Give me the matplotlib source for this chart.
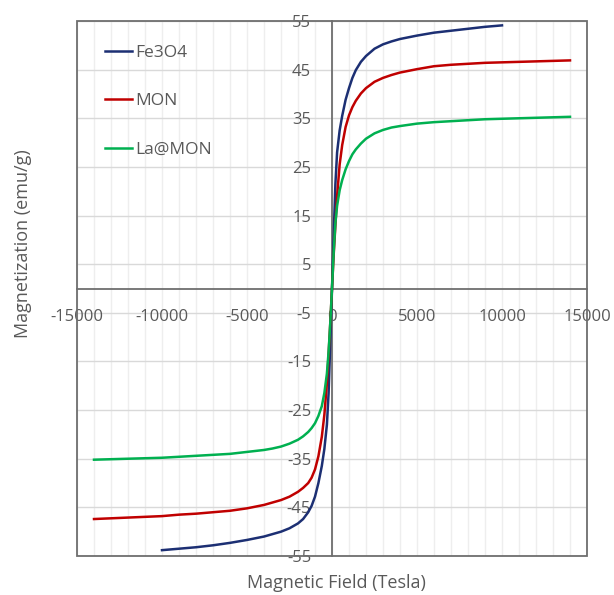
import numpy as np
import matplotlib
matplotlib.use("Agg")
import matplotlib.pyplot as plt
from matplotlib.patches import Rectangle

plt.rcParams['font.family'] = ['Open Sans', 'DejaVu Sans']
plt.rcParams['axes.unicode_minus'] = False

# field values
field = [-14000, -12000, -10000, -9000, -8000, -7000, -6000, -5000, -4000, -3500,
         -3000, -2500, -2000, -1700, -1400, -1200, -1000, -800, -600, -450, -300,
         -200, -100, 0, 100, 200, 300, 450, 600, 800, 1000, 1200, 1400, 1700,
         2000, 2500, 3000, 3500, 4000, 5000, 6000, 7000, 8000, 9000, 10000,
         12000, 14000]

# Fe3O4 only measured to +-10000
field_fe = field[2:-2]
fe3o4 = [-53.8, -53.5, -53.2, -52.8, -52.3, -51.7, -51.0, -50.5, -50.0, -49.3,
         -48.3, -47.4, -46.0, -44.7, -42.8, -40.0, -36.5, -33.0, -28.0, -21.5,
         -11.0, 0.0, 11.0, 21.5, 28.0, 32.5, 35.5, 38.8, 41.2, 43.3, 44.9, 46.6,
         47.8, 49.3, 50.2, 50.8, 51.3, 52.0, 52.6, 53.0, 53.4, 53.8, 54.1]

mon = [-47.4, -47.1, -46.8, -46.5, -46.3, -46.0, -45.7, -45.2, -44.5, -44.0,
       -43.5, -42.8, -41.8, -41.0, -40.0, -38.9, -37.2, -34.5, -30.5, -26.0,
       -19.5, -13.5, -7.0, 0.0, 7.0, 13.0, 19.0, 25.5, 29.5, 33.2, 35.6, 37.3,
       38.6, 40.1, 41.2, 42.5, 43.3, 43.9, 44.4, 45.1, 45.7, 46.0, 46.2, 46.4,
       46.5, 46.7, 46.9]

la_mon = [-35.2, -35.0, -34.8, -34.6, -34.4, -34.2, -34.0, -33.6, -33.2, -32.9,
          -32.5, -31.9, -31.1, -30.4, -29.5, -28.7, -27.7, -26.2, -24.2, -21.5,
          -17.5, -13.0, -7.0, 0.0, 7.5, 13.5, 17.0, 20.2, 22.3, 24.5, 26.2, 27.6,
          28.6, 29.8, 30.8, 31.9, 32.6, 33.1, 33.4, 33.9, 34.2, 34.4, 34.6, 34.8,
          34.9, 35.1, 35.3]

y_ticks = list(range(-55, 56, 10))
x_ticks = list(range(-15000, 15001, 5000))
x_grid = list(range(-15000, 15001, 1000))

txt = '#595959'

fig = plt.figure(figsize=(6.14, 5.95), dpi=100)
ax = fig.add_axes([77/614, 39/595, 510/614, 535/595])

# light vertical gridlines every 1000, drawn under everything
for g in x_grid:
    ax.axvline(g, color='#eeeeee', lw=1, zorder=0)
for g in y_ticks:
    ax.axhline(g, color='#d9d9d9', lw=1, zorder=0.1)

ax.plot(field_fe, fe3o4, color='#1c2f73', lw=1.8, label='Fe3O4', zorder=4)
ax.plot(field, mon, color='#c00000', lw=1.8, label='MON', zorder=4)
ax.plot(field, la_mon, color='#00b050', lw=1.8, label='La@MON', zorder=4)

ax.set_xlim(-15000, 15000)
ax.set_ylim(-55, 55)
ax.set_xticks(x_ticks)
ax.set_yticks(y_ticks)

for s in ['top', 'right']:
    ax.spines[s].set_visible(False)
ax.spines['left'].set_position(('data', 0))
ax.spines['bottom'].set_position(('data', 0))
ax.spines['left'].set_color('#6e6e6e')
ax.spines['bottom'].set_color('#6e6e6e')
ax.spines['left'].set_linewidth(1.3)
ax.spines['bottom'].set_linewidth(1.3)

ax.add_patch(Rectangle((0, 0), 1, 1, transform=ax.transAxes, fill=False,
                       edgecolor='#6e6e6e', lw=1.3, clip_on=False, zorder=5))

ax.tick_params(axis='both', which='both', length=0, labelsize=12, labelcolor=txt)
ax.tick_params(axis='y', pad=15)
ax.tick_params(axis='x', pad=15)

fig.text(336/614, 1 - 583/595, 'Magnetic Field (Tesla)', ha='center', va='center',
         fontsize=13, color=txt)
fig.text(23/614, 1 - 244/595, 'Magnetization (emu/g)', ha='center', va='center',
         rotation=90, fontsize=13, color=txt)

leg = ax.legend(loc='upper left', bbox_to_anchor=(105/614, 1 - 45/595),
                bbox_transform=fig.transFigure, frameon=False, fontsize=12.5,
                handlelength=1.55, handletextpad=0.2, labelspacing=1.85,
                borderpad=0, borderaxespad=0)
for t in leg.get_texts():
    t.set_color(txt)

fig.savefig('out.png', dpi=100, facecolor='white')
